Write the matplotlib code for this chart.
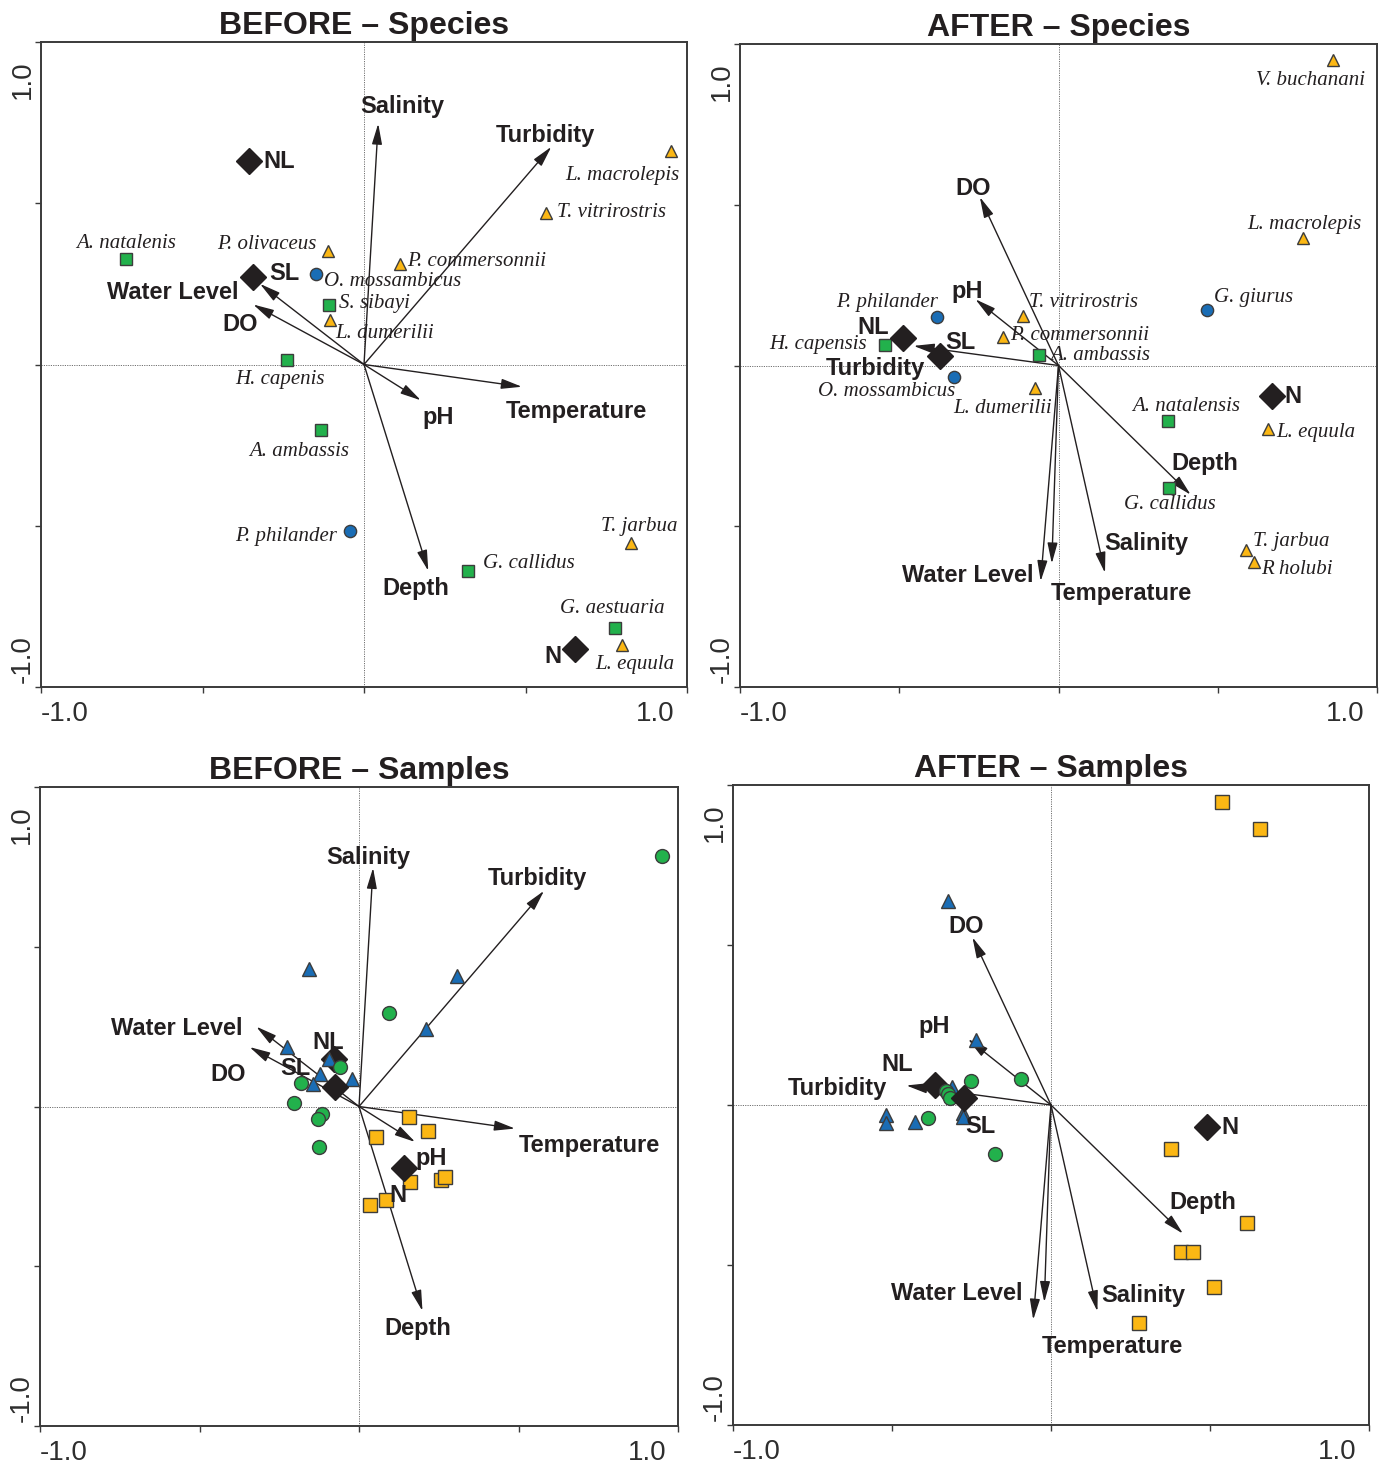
import matplotlib
matplotlib.use("Agg")
import matplotlib.pyplot as plt

plt.rcParams['font.family'] = ['Liberation Sans', 'DejaVu Sans']

INK = '#231F20'
FRAME = '#3A3A3A'
GREEN = '#22B14C'
BLUE = '#1A6DB5'
YELLOW = '#FBB714'
EDGE = '#3C3C3C'

# ---------------- data ----------------
env_names = ['Salinity', 'Turbidity', 'Water Level', 'DO', 'pH', 'Temperature', 'Depth']
before_env_x = [0.044, 0.580, -0.322, -0.343, 0.176, 0.489, 0.199]
before_env_y = [0.747, 0.675, 0.250, 0.186, -0.111, -0.069, -0.640]
after_env_x = [0.146, -0.455, -0.056, -0.247, -0.261, -0.021, 0.415]
after_env_y = [-0.645, 0.061, -0.671, 0.524, 0.206, -0.616, -0.402]

nominal_names = ['NL', 'SL', 'N']
before_sp_nom_x = [-0.357, -0.343, 0.652]
before_sp_nom_y = [0.631, 0.271, -0.883]
after_sp_nom_x = [-0.487, -0.372, 0.669]
after_sp_nom_y = [0.087, 0.028, -0.096]
before_smp_nom_x = [-0.078, -0.076, 0.140]
before_smp_nom_y = [0.149, 0.061, -0.193]
after_smp_nom_x = [-0.364, -0.273, 0.492]
after_smp_nom_y = [0.064, 0.021, -0.070]

# species scores; group: 's' = square, 'o' = circle, '^' = triangle
before_species = ['L. macrolepis', 'T. vitrirostris', 'A. natalenis', 'P. olivaceus',
                  'P. commersonnii', 'O. mossambicus', 'S. sibayi', 'L. dumerilii',
                  'H. capenis', 'A. ambassis', 'P. philander', 'G. callidus',
                  'T. jarbua', 'G. aestuaria', 'L. equula']
before_species_x = [0.950, 0.565, -0.738, -0.112, 0.113, -0.148, -0.108, -0.106,
                    -0.239, -0.133, -0.043, 0.321, 0.828, 0.778, 0.800]
before_species_y = [0.662, 0.470, 0.326, 0.352, 0.311, 0.280, 0.184, 0.139,
                    0.013, -0.204, -0.516, -0.640, -0.553, -0.816, -0.869]
before_species_group = ['^', '^', 's', '^', '^', 'o', 's', '^',
                        's', 's', 'o', 's', '^', 's', '^']

after_species = ['V. buchanani', 'L. macrolepis', 'P. philander', 'T. vitrirostris',
                 'G. giurus', 'H. capensis', 'P. commersonnii', 'A. ambassis',
                 'O. mossambicus', 'L. dumerilii', 'A. natalensis', 'L. equula',
                 'G. callidus', 'T. jarbua', 'R holubi']
after_species_x = [0.862, 0.769, -0.383, -0.112, 0.465, -0.545, -0.173, -0.060,
                   -0.329, -0.074, 0.343, 0.658, 0.346, 0.590, 0.615]
after_species_y = [0.949, 0.397, 0.151, 0.154, 0.173, 0.064, 0.089, 0.033,
                   -0.036, -0.070, -0.172, -0.198, -0.381, -0.575, -0.612]
after_species_group = ['^', '^', 'o', '^', 'o', 's', '^', 's',
                       'o', '^', 's', '^', 's', '^', '^']

# sample scores
before_tri_x = [-0.156, 0.307, 0.209, -0.227, -0.095, -0.123, -0.022, -0.144]
before_tri_y = [0.431, 0.407, 0.243, 0.186, 0.149, 0.102, 0.087, 0.069]
before_circ_x = [0.949, 0.094, -0.060, -0.181, -0.205, -0.116, -0.130, -0.126]
before_circ_y = [0.785, 0.292, 0.125, 0.074, 0.010, -0.024, -0.040, -0.128]
before_sq_x = [0.158, 0.217, 0.052, 0.161, 0.256, 0.270, 0.084, 0.035]
before_sq_y = [-0.032, -0.078, -0.094, -0.237, -0.230, -0.220, -0.292, -0.308]

after_tri_x = [-0.325, -0.237, -0.311, -0.518, -0.518, -0.427, -0.277, -0.277]
after_tri_y = [0.639, 0.203, 0.055, -0.031, -0.057, -0.052, -0.025, -0.038]
after_circ_x = [-0.095, -0.251, -0.331, -0.325, -0.319, -0.386, -0.175]
after_circ_y = [0.080, 0.076, 0.045, 0.035, 0.021, -0.042, -0.154]
after_sq_x = [0.539, 0.657, 0.377, 0.617, 0.409, 0.447, 0.513, 0.276]
after_sq_y = [0.948, 0.863, -0.137, -0.369, -0.460, -0.460, -0.569, -0.681]

# ---------------- label placement (pixel offsets, alignment) ----------------
tl_env_lbl = {'Salinity': (24, 17, 'center'), 'Turbidity': (-6, 11, 'center'),
              'Water Level': (-21, -9, 'right'), 'DO': (-13, -20, 'center'),
              'pH': (17, -17, 'center'), 'Temperature': (54, -25, 'center'),
              'Depth': (-12, -18, 'center')}
bl_env_lbl = {'Salinity': (-5, 10, 'center'), 'Turbidity': (-7, 12, 'center'),
              'Water Level': (-14, -2, 'right'), 'DO': (-21, -27, 'center'),
              'pH': (16, -17, 'center'), 'Temperature': (74, -17, 'center'),
              'Depth': (-5, -18, 'center')}
tr_env_lbl = {'Salinity': (41, 29, 'center'), 'Turbidity': (-38, -23, 'center'),
              'Water Level': (-7, 6, 'right'), 'DO': (-7, 9, 'center'),
              'pH': (-8, 8, 'center'), 'Temperature': (70, -30, 'center'),
              'Depth': (14, 31, 'center')}
br_env_lbl = {'Salinity': (46, 16, 'center'), 'Turbidity': (-19, -3, 'right'),
              'Water Level': (-11, 26, 'right'), 'DO': (-6, 11, 'center'),
              'pH': (-34, 13, 'center'), 'Temperature': (68, -44, 'center'),
              'Depth': (20, 31, 'center')}

tl_nom_lbl = {'NL': (15, 0, 'left'), 'SL': (16, 4, 'left'), 'N': (-13, -7, 'right')}
bl_nom_lbl = {'NL': (-6, 16, 'center'), 'SL': (-39, 19, 'center'), 'N': (-6, -27, 'center')}
tr_nom_lbl = {'NL': (-30, 10, 'center'), 'SL': (20, 14, 'center'), 'N': (13, 0, 'left')}
br_nom_lbl = {'NL': (-38, 20, 'center'), 'SL': (16, -28, 'center'), 'N': (14, 0, 'left')}

tl_sp_lbl = {'L. macrolepis': (-48, -24, 'center'), 'T. vitrirostris': (11, 0, 'left'),
             'A. natalenis': (0, 16, 'center'), 'P. olivaceus': (-11, 6, 'right'),
             'P. commersonnii': (7, 3, 'left'), 'O. mossambicus': (8, -7, 'left'),
             'S. sibayi': (10, 2, 'left'), 'L. dumerilii': (5, -14, 'left'),
             'H. capenis': (-7, -19, 'center'), 'A. ambassis': (-22, -21, 'center'),
             'P. philander': (-13, -6, 'right'), 'G. callidus': (15, 7, 'left'),
             'T. jarbua': (8, 16, 'center'), 'G. aestuaria': (-3, 19, 'center'),
             'L. equula': (12, -20, 'center')}
tr_sp_lbl = {'V. buchanani': (-23, -20, 'center'), 'L. macrolepis': (1, 13, 'center'),
             'P. philander': (1, 14, 'right'), 'T. vitrirostris': (6, 13, 'left'),
             'G. giurus': (7, 12, 'left'), 'H. capensis': (-18, 0, 'right'),
             'P. commersonnii': (7, 1, 'left'), 'A. ambassis': (11, -1, 'left'),
             'O. mossambicus': (-67, -14, 'center'), 'L. dumerilii': (17, -20, 'right'),
             'A. natalensis': (18, 14, 'center'), 'L. equula': (8, -3, 'left'),
             'G. callidus': (1, -17, 'center'), 'T. jarbua': (7, 9, 'left'),
             'R holubi': (7, -7, 'left')}

GROUP_COLOR = {'s': GREEN, 'o': BLUE, '^': YELLOW}

# axes rectangles in pixels: left, top, right, bottom
W, H = 1384, 1465
rects = {'tl': (41, 42, 687, 687), 'tr': (740, 44, 1377, 687),
         'bl': (40, 787, 678, 1426), 'br': (733, 785, 1369, 1425)}


def make_axes(fig, key, title):
    l, t, r, b = rects[key]
    ax = fig.add_axes([l / W, 1 - b / H, (r - l) / W, (b - t) / H])
    ax.set_xlim(-1, 1)
    ax.set_ylim(-1, 1)
    ax.axhline(0, color='#707070', lw=0.7, ls=(0, (1.2, 1.2)), zorder=1)
    ax.axvline(0, color='#707070', lw=0.7, ls=(0, (1.2, 1.2)), zorder=1)
    for s in ax.spines.values():
        s.set_color(FRAME)
        s.set_linewidth(1.4)
    ticks = [-1, -0.5, 0, 0.5, 1]
    ax.set_xticks(ticks)
    ax.set_yticks(ticks)
    ax.tick_params(length=4, width=1, color=FRAME, direction='out',
                   labelbottom=False, labelleft=False)
    tk = dict(xycoords='axes fraction', textcoords='offset pixels',
              fontsize=20, color='#2E2E2E')
    ax.annotate('-1.0', xy=(0, 0), xytext=(0, -14), ha='left', va='top', **tk)
    ax.annotate('1.0', xy=(1, 0), xytext=(-12, -14), ha='right', va='top', **tk)
    ax.annotate('1.0', xy=(0, 1), xytext=(-18, -18), ha='center', va='top',
                rotation=90, **tk)
    ax.annotate('-1.0', xy=(0, 0), xytext=(-18, 4), ha='center', va='bottom',
                rotation=90, **tk)
    ax.set_title(title, fontsize=23, fontweight='bold', color=INK, pad=6)
    return ax


def draw_env(ax, xs, ys, lbl):
    for name, x, y in zip(env_names, xs, ys):
        ax.annotate('', xy=(x, y), xytext=(0, 0),
                    arrowprops=dict(arrowstyle='-|>,head_length=0.9,head_width=0.22',
                                    color=INK, lw=1.0, shrinkA=0, shrinkB=0,
                                    mutation_scale=14), zorder=3)
        dx, dy, ha = lbl[name]
        ax.annotate(name, xy=(x, y), xytext=(dx, dy), textcoords='offset pixels',
                    ha=ha, va='center', fontsize=17, fontweight='bold',
                    color=INK, zorder=6)


def draw_nominal(ax, xs, ys, lbl, behind=()):
    for name, x, y in zip(nominal_names, xs, ys):
        z = 3.5 if name in behind else 5
        ax.plot([x], [y], ls='none', marker='D', ms=13, mfc=INK, mec=INK, zorder=z)
        dx, dy, ha = lbl[name]
        ax.annotate(name, xy=(x, y), xytext=(dx, dy), textcoords='offset pixels',
                    ha=ha, va='center', fontsize=17, fontweight='bold',
                    color=INK, zorder=6)


def draw_species(ax, names, xs, ys, groups, lbl):
    for name, x, y, g in zip(names, xs, ys, groups):
        ax.plot([x], [y], ls='none', marker=g, ms=8.8, mfc=GROUP_COLOR[g],
                mec=EDGE, mew=1.0, zorder=4)
        dx, dy, ha = lbl[name]
        ax.annotate(name, xy=(x, y), xytext=(dx, dy), textcoords='offset pixels',
                    ha=ha, va='center', fontsize=15, fontstyle='italic',
                    family=['Liberation Serif', 'DejaVu Serif'], color=INK, zorder=6)


def draw_samples(ax, tx, ty, cx, cy, sx, sy):
    ax.plot(tx, ty, ls='none', marker='^', ms=10.5, mfc=BLUE, mec=EDGE, mew=1.0, zorder=4)
    ax.plot(cx, cy, ls='none', marker='o', ms=10, mfc=GREEN, mec=EDGE, mew=1.0, zorder=4)
    ax.plot(sx, sy, ls='none', marker='s', ms=10, mfc=YELLOW, mec=EDGE, mew=1.0, zorder=4)


fig = plt.figure(figsize=(W / 100, H / 100), dpi=100)

ax = make_axes(fig, 'tl', 'BEFORE \u2013 Species')
draw_env(ax, before_env_x, before_env_y, tl_env_lbl)
draw_species(ax, before_species, before_species_x, before_species_y,
             before_species_group, tl_sp_lbl)
draw_nominal(ax, before_sp_nom_x, before_sp_nom_y, tl_nom_lbl)

ax = make_axes(fig, 'tr', 'AFTER \u2013 Species')
draw_env(ax, after_env_x, after_env_y, tr_env_lbl)
draw_species(ax, after_species, after_species_x, after_species_y,
             after_species_group, tr_sp_lbl)
draw_nominal(ax, after_sp_nom_x, after_sp_nom_y, tr_nom_lbl)

ax = make_axes(fig, 'bl', 'BEFORE \u2013 Samples')
draw_env(ax, before_env_x, before_env_y, bl_env_lbl)
draw_nominal(ax, before_smp_nom_x, before_smp_nom_y, bl_nom_lbl, behind=('NL',))
draw_samples(ax, before_tri_x, before_tri_y, before_circ_x, before_circ_y,
             before_sq_x, before_sq_y)

ax = make_axes(fig, 'br', 'AFTER \u2013 Samples')
draw_env(ax, after_env_x, after_env_y, br_env_lbl)
draw_nominal(ax, after_smp_nom_x, after_smp_nom_y, br_nom_lbl, behind=('NL',))
draw_samples(ax, after_tri_x, after_tri_y, after_circ_x, after_circ_y,
             after_sq_x, after_sq_y)

fig.savefig('out.png', dpi=100)
